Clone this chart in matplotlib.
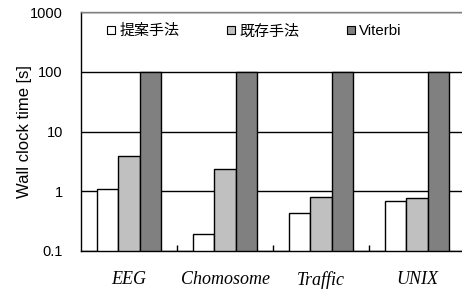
import numpy as np
import matplotlib.pyplot as plt

# データ
datasets = ['EEG', 'Chomosome', 'Traffic', 'UNIX']
proposed = [1.07, 0.19, 0.43, 0.68]
existing = [3.9, 2.4, 0.80, 0.76]
viterbi = [98, 98, 98, 98]
series_names = ['提案手法', '既存手法', 'Viterbi']
yticks = [0.1, 1, 10, 100, 1000]
ytick_labels = ['0.1', '1', '10', '100', '1000']

plt.rcParams['font.family'] = ['Liberation Sans', 'Noto Sans CJK JP']

fig = plt.figure(figsize=(4.62, 2.89), dpi=100)
ax = fig.add_axes([81 / 462, 38 / 289, 384 / 462, 239 / 289])

x = np.arange(len(datasets))
w = 2 / 9
base = 0.1
colors = ['white', '#c0c0c0', '#808080']
for k, (vals, c, name) in enumerate(zip([proposed, existing, viterbi], colors, series_names)):
    h = np.array(vals) - base
    ax.bar(x + (k - 1) * w, h, w, bottom=base, color=c, edgecolor='black',
           linewidth=1, label=name, zorder=3)

ax.set_yscale('log')
ax.set_ylim(0.1, 1000)
ax.set_xlim(-0.5, len(datasets) - 0.5)
ax.set_yticks(yticks)
ax.set_yticklabels(ytick_labels, fontsize=10.5)
ax.minorticks_off()
ax.tick_params(axis='y', length=0, pad=13)
ax.yaxis.grid(True, color='black', linewidth=1, zorder=0)

ax.set_xticks(x[:-1] + 0.5)
ax.set_xticklabels([])
ax.tick_params(axis='x', direction='in', length=4, width=1)
for i, name in enumerate(datasets):
    ax.text(x[i], -0.085, name, transform=ax.get_xaxis_transform(), ha='center', va='top',
            fontsize=13, style='italic', family='Liberation Serif')

ax.spines['right'].set_visible(False)
ax.spines['top'].set_color('#808080')
ax.spines['top'].set_linewidth(1)
ax.spines['left'].set_linewidth(1)
ax.spines['bottom'].set_linewidth(1)

ax.set_ylabel('Wall clock time [s]', fontsize=12)
ax.yaxis.set_label_coords(-0.128, 0.5)

leg = ax.legend(loc='upper left', bbox_to_anchor=(0.037, 1.0), ncol=3, frameon=False,
                fontsize=10.8, handlelength=0.5, handleheight=0.5, handletextpad=0.3,
                columnspacing=3.2, borderaxespad=0.4)
for p in leg.get_patches():
    p.set_linewidth(0.8)

fig.savefig('out.png', dpi=100)
